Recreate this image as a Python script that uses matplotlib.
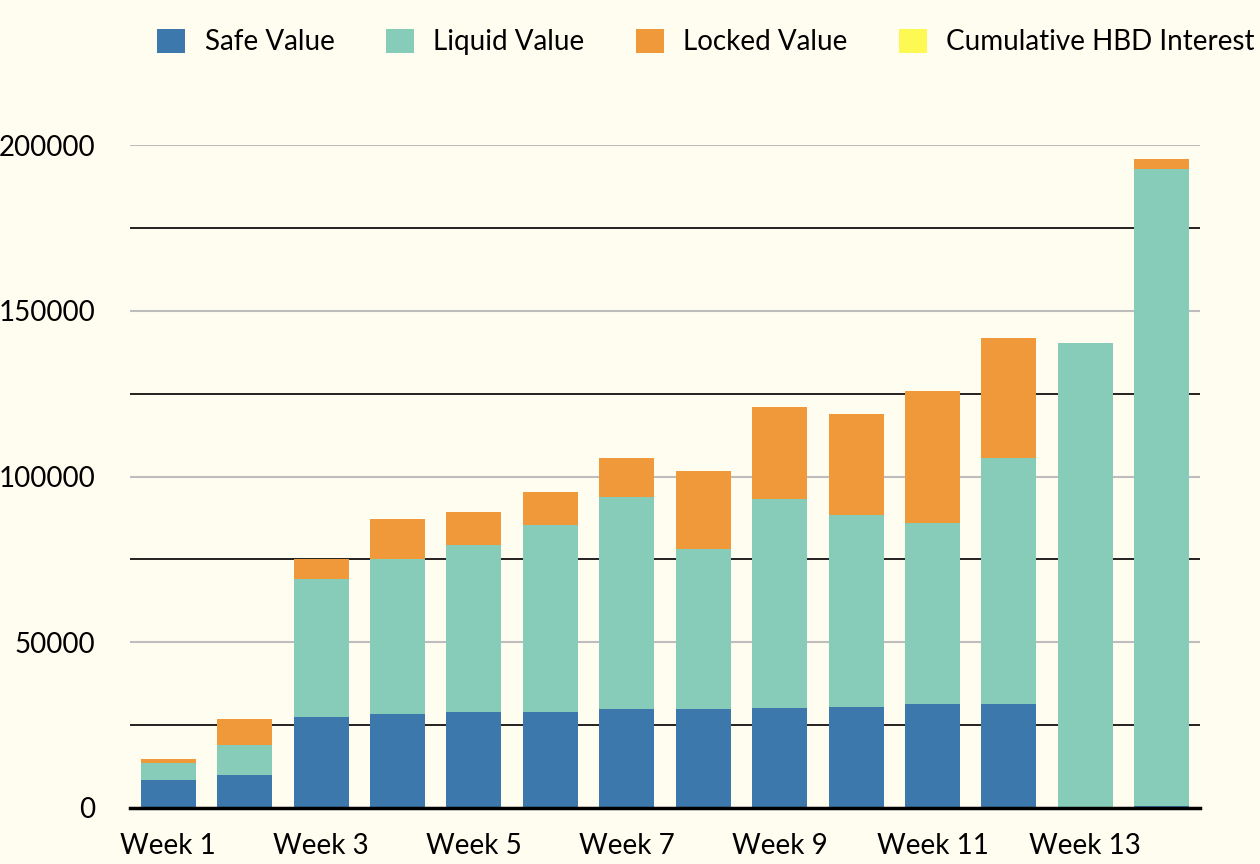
import matplotlib
matplotlib.use("Agg")
import matplotlib.pyplot as plt
from matplotlib.patches import Patch
from matplotlib.ticker import MultipleLocator
import numpy as np

plt.rcParams['font.family'] = ['Lato', 'DejaVu Sans']

weeks = [f"Week {i}" for i in range(1, 15)]
safe_value = [8400, 10000, 27500, 28400, 29000, 29000, 29900, 29900, 30200, 30500, 31400, 31400, 0, 600]
liquid_value = [5200, 9000, 41500, 46700, 50300, 56400, 63900, 48200, 63000, 57900, 54600, 74200, 140300, 192200]
locked_value = [1200, 7800, 6100, 12100, 10000, 9900, 11800, 23600, 27800, 30500, 39800, 36200, 0, 3000]
hbd_interest = [0, 0, 0, 0, 0, 0, 0, 0, 0, 0, 0, 0, 0, 0]

series_names = ["Safe Value", "Liquid Value", "Locked Value", "Cumulative HBD Interest"]
colors = ["#3c78ab", "#86ccb8", "#f0993a", "#fef853"]
bg = "#fffcf0"

fig = plt.figure(figsize=(12.6, 8.64), dpi=100, facecolor=bg)
ax = fig.add_axes([130/1260, 1-808/864, (1200-130)/1260, (808-145)/864])
ax.set_facecolor(bg)

x = np.arange(len(weeks))
bottom = np.zeros(len(weeks))
for vals, c in zip([safe_value, liquid_value, locked_value, hbd_interest], colors):
    v = np.array(vals, dtype=float)
    ax.bar(x, v, width=0.72, bottom=bottom, color=c, zorder=3, linewidth=0)
    bottom += v

ax.set_xlim(-0.5, len(weeks) - 0.5)
ax.set_ylim(0, 200000)
ax.yaxis.set_major_locator(MultipleLocator(50000))
ax.yaxis.set_minor_locator(MultipleLocator(25000))
ax.grid(which='major', axis='y', color='#bdbdbd', linewidth=1.5, zorder=1)
ax.grid(which='minor', axis='y', color='#111111', linewidth=1.3, zorder=1)
ax.set_xticks(x[::2])
ax.set_xticklabels(weeks[::2])
ax.tick_params(axis='both', length=0, labelsize=20, colors='black')
ax.tick_params(axis='y', which='both', length=0, pad=25)
ax.tick_params(axis='x', pad=18)
for s in ['top', 'right', 'left']:
    ax.spines[s].set_visible(False)
ax.spines['bottom'].set_linewidth(2.5)
ax.spines['bottom'].set_color('black')
ax.spines['bottom'].set_zorder(4)

handles = [Patch(facecolor=c, edgecolor='none') for c in colors]
fig.legend(handles, series_names, loc='center', bbox_to_anchor=(706/1260, 1-42/864),
           ncol=4, frameon=False, fontsize=20, handlelength=1.0, handleheight=1.0,
           handletextpad=0.7, columnspacing=1.85)

fig.savefig("out.png", dpi=100, facecolor=bg)
